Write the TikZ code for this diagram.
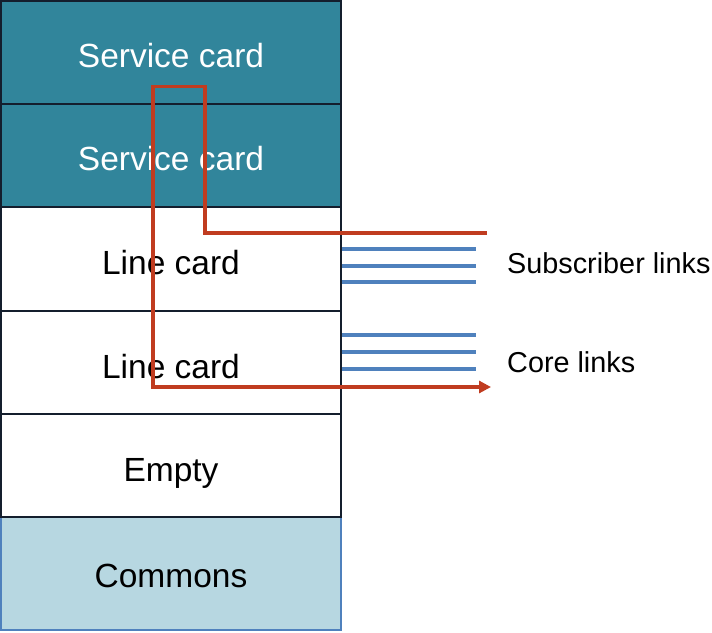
\documentclass[tikz,border=0pt]{standalone}
\usepackage{fontspec}
\setmainfont{Liberation Sans}
\usetikzlibrary{arrows.meta}
\definecolor{svcteal}{RGB}{49,133,155}
\definecolor{commfill}{RGB}{183,215,225}
\definecolor{commedge}{RGB}{79,129,189}
\definecolor{linkblue}{RGB}{79,129,189}
\definecolor{pathred}{RGB}{192,60,32}
\definecolor{edgedark}{RGB}{20,30,45}
\tikzset{
  card/.style={draw=edgedark, line width=2.2pt, minimum width=340pt, inner sep=0pt, outer sep=0pt,
    text height=31pt, text depth=0pt, font=\fontsize{33.5}{36}\selectfont, text=black},
  svc/.style={card, fill=svcteal, text=white},
  link/.style={draw=linkblue, line width=3.2pt},
  route/.style={draw=pathred, line width=3.4pt},
  lbl/.style={anchor=base west, inner sep=0pt, font=\fontsize{28.8}{32}\selectfont}
}
\begin{document}
\begin{tikzpicture}[x=1pt,y=-1pt]
\useasboundingbox (0,0) rectangle (712,632);
\node[card, draw=commedge, fill=commfill, minimum height=113pt, text height=27pt] (commons) at (171,573.5) {Commons};
\node[svc, minimum height=103pt, text height=29.5pt] (s1) at (171,52.5) {Service card};
\node[svc, minimum height=103pt, text height=29.5pt] (s2) at (171,155.5) {Service card};
\node[card, fill=white, minimum height=104pt] (l1) at (171,259) {Line card};
\node[card, fill=white, minimum height=103pt] (l2) at (171,362.5) {Line card};
\node[card, fill=white, minimum height=103pt] (empty) at (171,465.5) {Empty};
\node[lbl] (sub) at (507,273.5) {Subscriber links};
\node[lbl] (core) at (507,372) {Core links};
% blue link lines
\foreach \y [count=\i] in {249,266,282} {
  \coordinate (sa\i) at (342,\y);
  \coordinate (sb\i) at (476,\y);
  \draw[link] (sa\i) -- (sb\i);
}
\foreach \y [count=\i] in {335,352,369} {
  \coordinate (ca\i) at (342,\y);
  \coordinate (cb\i) at (476,\y);
  \draw[link] (ca\i) -- (cb\i);
}
% red route
\coordinate (rin) at (487,233);
\coordinate (r1) at (205,233);
\coordinate (r2) at (205,86.5);
\coordinate (r3) at (153,86.5);
\coordinate (r4) at (153,387);
\coordinate (rout) at (491,387);
\draw[route, -{Triangle[length=12pt,width=12pt]}] (rin) -- (r1) -- (r2) -- (r3) -- (r4) -- (rout);
\end{tikzpicture}
\end{document}
